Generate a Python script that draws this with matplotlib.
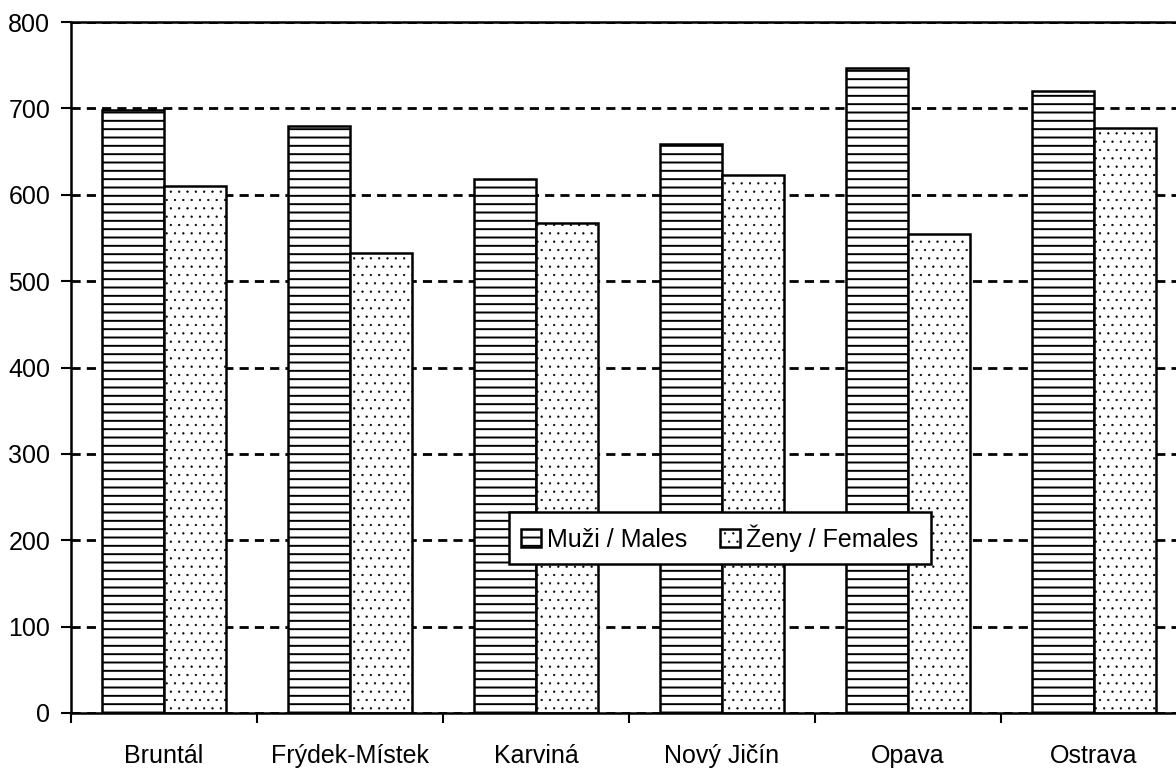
import matplotlib
matplotlib.use("Agg")
import matplotlib.pyplot as plt
import numpy as np

districts = ["Bruntál", "Frýdek-Místek", "Karviná", "Nový Jičín", "Opava", "Ostrava"]
males = [698, 680, 618, 659, 747, 720]
females = [610, 532, 567, 623, 555, 677]
yticks = [0, 100, 200, 300, 400, 500, 600, 700, 800]

plt.rcParams["font.family"] = ["Liberation Sans Narrow", "Liberation Sans", "DejaVu Sans"]
plt.rcParams["hatch.linewidth"] = 1.4
plt.rcParams["hatch.color"] = "black"

fig = plt.figure(figsize=(11.76, 7.70), dpi=100)
ax = fig.add_axes([71 / 1176, (770 - 713) / 770, 1116 / 1176, 691 / 770])

x = np.arange(len(districts))
w = 1 / 3
ax.bar(x - w / 2, males, w, color="white", edgecolor="black", linewidth=1.8,
       hatch="--", label="Muži / Males", zorder=3)
fbars = ax.bar(x + w / 2, females, w, color="white", edgecolor="black", linewidth=1.8,
               hatch="..", label="Ženy / Females", zorder=3)
for p in fbars:
    try:
        p.set_hatch_linewidth(0.4)
    except AttributeError:
        pass

ax.set_xlim(-0.5, len(districts) - 0.5)
ax.set_ylim(0, 800)
ax.set_yticks(yticks)
ax.set_xticks(np.arange(len(districts) + 1) - 0.5)
ax.set_xticklabels([])
ax.set_xticks(x, minor=True)
ax.set_xticklabels(districts, minor=True)
ax.tick_params(axis="x", which="minor", length=0, pad=22, labelsize=18)
ax.tick_params(axis="x", which="major", length=7, width=1.5, direction="out")
ax.tick_params(axis="y", length=7, width=1.5, direction="out", pad=8, labelsize=18)

ax.yaxis.grid(True, color="black", linestyle=(0, (3.3, 2.2)), linewidth=2.0, zorder=1)
ax.set_axisbelow(True)
for s in ["left", "bottom", "top", "right"]:
    ax.spines[s].set_linewidth(1.8)
    ax.spines[s].set_zorder(4)

leg = ax.legend(loc="center", bbox_to_anchor=(0.5815, 0.253), ncol=2,
                fontsize=18, frameon=True, fancybox=False, framealpha=1,
                edgecolor="black", handlelength=0.8, handleheight=0.7,
                handletextpad=0.25, columnspacing=1.3, borderpad=0.5)
leg.get_frame().set_linewidth(1.8)
leg.set_zorder(5)
try:
    leg.legend_handles[1].set_hatch_linewidth(0.4)
except (AttributeError, IndexError):
    pass

fig.savefig("out.png", dpi=100)
